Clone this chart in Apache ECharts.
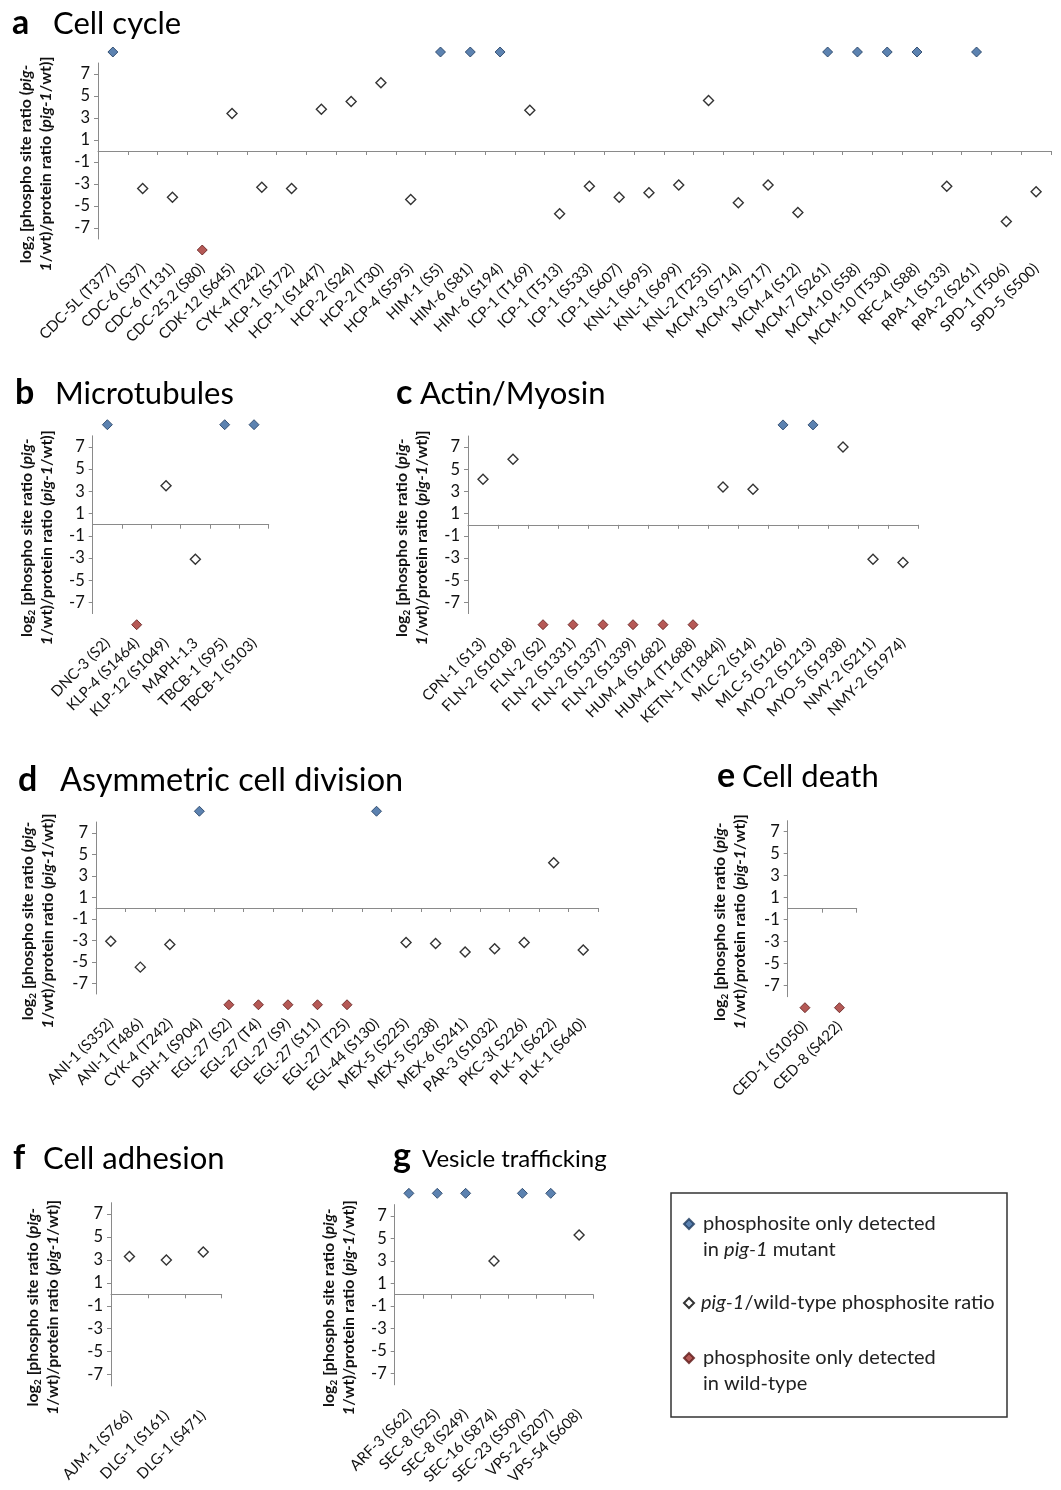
<!DOCTYPE html>
<html><head><meta charset="utf-8">
<script src="https://cdn.jsdelivr.net/npm/echarts@6/dist/echarts.min.js"></script>
<style>html,body{margin:0;padding:0;background:#fff}#chart{width:1061px;height:1490px}</style>
</head><body><div id="chart"></div>
<script>
// ---------- DATA ----------
// ratio: log2 value (null when the site was detected in only one strain)
// only: 'mut' = phosphosite only detected in pig-1 mutant, 'wt' = only detected in wild-type
const catA = ['CDC-5L (T377)','CDC-6 (S37)','CDC-6 (T131)','CDC-25.2 (S80)','CDK-12 (S645)','CYK-4 (T242)','HCP-1 (S172)','HCP-1 (S1447)','HCP-2 (S24)','HCP-2 (T30)','HCP-4 (S595)','HIM-1 (S5)','HIM-6 (S81)','HIM-6 (S194)','ICP-1 (T169)','ICP-1 (T513)','ICP-1 (S533)','ICP-1 (S607)','KNL-1 (S695)','KNL-1 (S699)','KNL-2 (T255)','MCM-3 (S714)','MCM-3 (S717)','MCM-4 (S12)','MCM-7 (S261)','MCM-10 (S58)','MCM-10 (T530)','RFC-4 (S88)','RPA-1 (S133)','RPA-2 (S261)','SPD-1 (T506)','SPD-5 (S500)'];
const ratioA = [null,-3.4,-4.2,null,3.4,-3.3,-3.4,3.8,4.5,6.2,-4.4,null,null,null,3.7,-5.7,-3.2,-4.2,-3.8,-3.1,4.6,-4.7,-3.1,-5.6,null,null,null,null,-3.2,null,-6.4,-3.7];
const onlyA = ['mut','','','wt','','','','','','','','mut','mut','mut','','','','','','','','','','','mut','mut','mut','mut','','mut','',''];

const catB = ['DNC-3 (S2)','KLP-4 (S1464)','KLP-12 (S1049)','MAPH-1.3','TBCB-1 (S95)','TBCB-1 (S103)'];
const ratioB = [null,null,3.5,-3.1,null,null];
const onlyB = ['mut','wt','','','mut','mut'];

const catC = ['CPN-1 (S13)','FLN-2 (S1018)','FLN-2 (S2)','FLN-2 (S1331)','FLN-2 (S1337)','FLN-2 (S1339)','HUM-4 (S1682)','HUM-4 (T1688)','KETN-1 (T1844))','MLC-2 (S14)','MLC-5 (S126)','MYO-2 (S1213)','MYO-5 (S1938)','NMY-2 (S211)','NMY-2 (S1974)'];
const ratioC = [4.1,5.9,null,null,null,null,null,null,3.4,3.2,null,null,7.0,-3.1,-3.4];
const onlyC = ['','','wt','wt','wt','wt','wt','wt','','','mut','mut','','',''];

const catD = ['ANI-1 (S352)','ANI-1 (T486)','CYK-4 (T242)','DSH-1 (S904)','EGL-27 (S2)','EGL-27 (T4)','EGL-27 (S9)','EGL-27 (S11)','EGL-27 (T25)','EGL-44 (S130)','MEX-5 (S225)','MEX-5 (S238)','MEX-6 (S241)','PAR-3 (S1032)','PKC-3( S226)','PLK-1 (S622)','PLK-1 (S640)'];
const ratioD = [-3.1,-5.5,-3.4,null,null,null,null,null,null,null,-3.2,-3.3,-4.1,-3.8,-3.2,4.2,-3.9];
const onlyD = ['','','','mut','wt','wt','wt','wt','wt','mut','','','','','','',''];

const catE = ['CED-1 (S1050)','CED-8 (S422)'];
const ratioE = [null,null];
const onlyE = ['wt','wt'];

const catF = ['AJM-1 (S766)','DLG-1 (S161)','DLG-1 (S471)'];
const ratioF = [3.3,3.0,3.7];
const onlyF = ['','',''];

const catG = ['ARF-3 (S62)','SEC-8 (S25)','SEC-8 (S249)','SEC-16 (S874)','SEC-23 (S509)','VPS-2 (S207)','VPS-54 (S608)'];
const ratioG = [null,null,null,3.0,null,null,5.3];
const onlyG = ['mut','mut','mut','','mut','mut',''];

const panelLetters = ['a','b','c','d','e','f','g'];
const panelNames = ['Cell cycle','Microtubules','Actin/Myosin','Asymmetric cell division','Cell death','Cell adhesion','Vesicle trafficking'];
const yTickValues = [-7,-5,-3,-1,1,3,5,7];
const Y_MIN = -8, Y_MAX = 8;
const MUTANT_ONLY_Y = 9;   // plotted above the axis
const WILD_ONLY_Y = -9;    // plotted below the axis

// ---------- LAYOUT ----------
const layouts = [
  {left:98,   top:63,     width:953,   height:176,   nameGap:42, letterX:12,  nameX:53,  baseline:33,     nameSize:31},
  {left:92.7, top:435.8,  width:176,   height:177.8, nameGap:36, letterX:15,  nameX:55,  baseline:403,    nameSize:31},
  {left:468,  top:436,    width:450,   height:177.6, nameGap:36, letterX:396, nameX:420, baseline:403,    nameSize:31},
  {left:96,   top:822,    width:502,   height:172,   nameGap:38, letterX:18,  nameX:60,  baseline:790,    nameSize:32.5},
  {left:787.7,top:820.7,  width:69,    height:176,   nameGap:38, letterX:717, nameX:742, baseline:786.7,  nameSize:31},
  {left:111,  top:1202.7, width:110.7, height:183.2, nameGap:48, letterX:13,  nameX:43,  baseline:1168,   nameSize:31},
  {left:394.7,top:1204.6, width:198.6, height:180.2, nameGap:36, letterX:393, nameX:422, baseline:1166.7, nameSize:24}
];
const panels = [
  [catA, ratioA, onlyA],[catB, ratioB, onlyB],[catC, ratioC, onlyC],[catD, ratioD, onlyD],
  [catE, ratioE, onlyE],[catF, ratioF, onlyF],[catG, ratioG, onlyG]
];

const FONT = 'Lato, "Noto Sans", sans-serif';
const AXIS_COLOR = '#8a8a8a';
const TEXT_COLOR = '#111';

const yName = '{b|log}{s|2}{b| [phospho site ratio (}{bi|pig-}\n{bi|1}{b|/wt)/protein ratio (}{bi|pig-1}{b|/wt)]}';
const yNameRich = {
  b:  {fontFamily: FONT, fontWeight: 'bold', fontSize: 16, lineHeight: 20, color: TEXT_COLOR},
  bi: {fontFamily: FONT, fontWeight: 'bold', fontStyle: 'italic', fontSize: 16, lineHeight: 20, color: TEXT_COLOR},
  s:  {fontFamily: FONT, fontWeight: 'bold', fontSize: 10, lineHeight: 12, verticalAlign: 'bottom', color: TEXT_COLOR}
};

const grid = [], xAxis = [], yAxis = [], series = [], title = [];
panels.forEach(([cats, ratio, only], i) => {
  const L = layouts[i];
  grid.push({left: L.left, top: L.top, width: L.width, height: L.height, containLabel: false, outerBoundsMode: 'none'});
  // axis line at zero with ticks
  xAxis.push({
    type: 'category', gridIndex: i, data: cats, boundaryGap: true,
    axisLine: {show: true, onZero: true, lineStyle: {color: AXIS_COLOR, width: 1}},
    axisTick: {show: true, length: 4, interval: 0, lineStyle: {color: AXIS_COLOR}},
    axisLabel: {show: false}, splitLine: {show: false}
  });
  // labels at the bottom
  xAxis.push({
    type: 'category', gridIndex: i, data: cats, position: 'bottom', boundaryGap: true,
    axisLine: {show: false, onZero: false}, axisTick: {show: false}, splitLine: {show: false},
    axisLabel: {show: true, interval: 0, rotate: 45, margin: 27, fontFamily: FONT, fontSize: 15, color: TEXT_COLOR, hideOverlap: false}
  });
  yAxis.push({
    type: 'value', gridIndex: i, min: Y_MIN, max: Y_MAX, interval: 2,
    axisLine: {show: true, onZero: false, lineStyle: {color: AXIS_COLOR, width: 1}},
    axisTick: {show: true, length: 4, customValues: yTickValues, lineStyle: {color: AXIS_COLOR}},
    axisLabel: {show: true, customValues: yTickValues, margin: 8, fontFamily: FONT, fontSize: 16.5, color: TEXT_COLOR},
    splitLine: {show: false},
    name: yName, nameLocation: 'middle', nameRotate: 90, nameGap: L.nameGap,
    nameTextStyle: {rich: yNameRich, align: 'center', padding: [0, 26, 0, 0]}
  });
  const common = {type: 'scatter', xAxisIndex: 2 * i, yAxisIndex: i, symbol: 'diamond', clip: false, animation: false, emphasis: {disabled: true}};
  series.push(Object.assign({}, common, {
    name: 'ratio', symbolSize: 10,
    itemStyle: {color: '#ffffff', borderColor: '#000000', borderWidth: 1.4},
    data: cats.map((c, k) => ratio[k] == null ? null : [c, ratio[k]]).filter(Boolean)
  }));
  series.push(Object.assign({}, common, {
    name: 'mutantOnly', symbolSize: 10,
    itemStyle: {color: '#33639c', borderColor: '#1d3a5e', borderWidth: 1},
    data: cats.filter((c, k) => only[k] === 'mut').map(c => [c, MUTANT_ONLY_Y])
  }));
  series.push(Object.assign({}, common, {
    name: 'wildOnly', symbolSize: 10,
    itemStyle: {color: '#a3302c', borderColor: '#5c1816', borderWidth: 1},
    data: cats.filter((c, k) => only[k] === 'wt').map(c => [c, WILD_ONLY_Y])
  }));
  title.push({text: panelLetters[i], left: L.letterX, top: L.baseline - 0.8 * 34, padding: 0,
    textStyle: {fontFamily: FONT, fontWeight: 'bold', fontSize: 34, color: '#000'}});
  title.push({text: panelNames[i], left: L.nameX, top: L.baseline - 0.8 * L.nameSize, padding: 0,
    textStyle: {fontFamily: FONT, fontWeight: 'normal', fontSize: L.nameSize, color: '#000'}});
});

const legRich = {
  n: {fontFamily: FONT, fontSize: 20, lineHeight: 26, color: '#222'},
  i: {fontFamily: FONT, fontSize: 20, lineHeight: 26, fontStyle: 'italic', color: '#222'}
};
const legendTexts = {
  mutantOnly: '{n|phosphosite only detected}\n{n|in }{i|pig-1}{n| mutant}',
  ratio: '{i|pig-1}{n|/wild-type phosphosite ratio}',
  wildOnly: '{n|phosphosite only detected}\n{n|in wild-type}'
};
function mkLegend(name, top, twoLines) {
  return {
    data: [name], left: 683, top: top, padding: 0, itemGap: 0, itemWidth: 10, itemHeight: 10,
    icon: 'diamond', selectedMode: false, orient: 'vertical',
    formatter: n => legendTexts[n],
    textStyle: {fontFamily: FONT, fontSize: 20, lineHeight: 26, color: '#222', rich: legRich,
      padding: twoLines ? [26, 0, 0, 4] : [0, 0, 0, 2]}
  };
}

const option = {
  backgroundColor: '#ffffff',
  animation: false,
  title: title,
  grid: grid, xAxis: xAxis, yAxis: yAxis, series: series,
  legend: [mkLegend('mutantOnly', 1224 - 39, true), mkLegend('ratio', 1303 - 13, false), mkLegend('wildOnly', 1358 - 39, true)],
  graphic: [{type: 'rect', shape: {x: 671, y: 1193, width: 336, height: 224},
    style: {fill: 'none', stroke: '#333', lineWidth: 1.5}, silent: true}]
};
const chart = echarts.init(document.getElementById('chart'), null, {renderer: 'canvas'});
chart.setOption(option);
</script></body></html>
